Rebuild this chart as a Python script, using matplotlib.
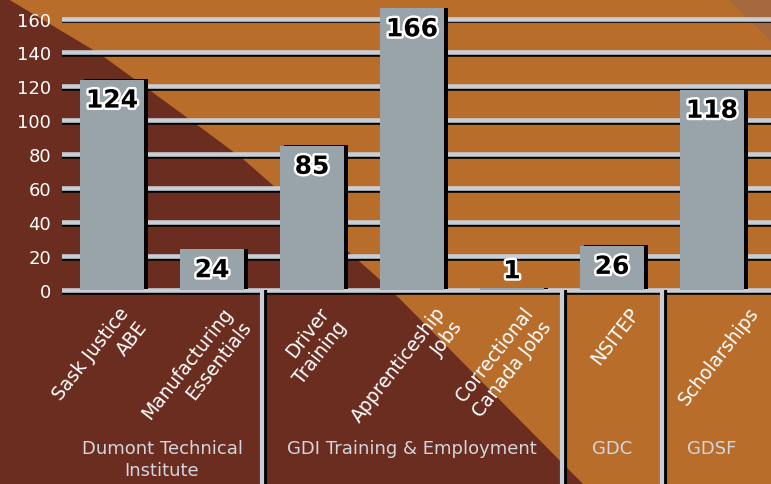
import matplotlib
matplotlib.use("Agg")
import matplotlib.pyplot as plt
import matplotlib.patheffects as pe
import matplotlib.transforms as mtransforms
import numpy as np

# data
programs = ["Sask Justice\nABE", "Manufacturing\nEssentials", "Driver\nTraining",
            "Apprenticeship\nJobs", "Correctional\nCanada Jobs", "NSITEP", "Scholarships"]
participants = [124, 24, 85, 166, 1, 26, 118]
groups = ["Dumont Technical\nInstitute", "GDI Training & Employment", "GDC", "GDSF"]
group_members = [[0, 1], [2, 3, 4], [5], [6]]
yticks = [0, 20, 40, 60, 80, 100, 120, 140, 160]

DARK = "#6b2d1f"
ORANGE = "#b86d2b"
BAR = "#99a3aa"
GRID = "#c8ced7"
W, H = 771, 485

plt.rcParams["font.family"] = ["DejaVu Sans"]
fig = plt.figure(figsize=(W / 100, H / 100), dpi=100)

# background: orange with a dark diagonal wedge (pixel coords)
bg = fig.add_axes([0, 0, 1, 1], zorder=-5)
bg.set_xlim(0, W)
bg.set_ylim(H, 0)
bg.axis("off")
bg.add_patch(plt.Rectangle((0, 0), W, H, color=ORANGE, lw=0))
wedge = [(0, 0), (8, 0), (100, 55), (200, 128), (243, 160), (300, 210), (377, 278),
         (400, 300), (583, 485), (0, 485)]
bg.add_patch(plt.Polygon(wedge, color=DARK, lw=0))
bg.add_patch(plt.Polygon([(728, 0), (W, 0), (W, 42)], color="#a5693d", lw=0))

ax = fig.add_axes([62 / W, 1 - 296 / H, 1 - 62 / W, 296 / H])
ax.set_facecolor("none")
for s in ax.spines.values():
    s.set_visible(False)

x = np.arange(len(programs))
ax.set_xlim(-0.5, 6.59)
ax.set_ylim(-2.95, 171.5)

# gridlines with a thin dark drop shadow
for t in yticks:
    ax.axhline(t, color=GRID, lw=3.3, zorder=1,
               path_effects=[pe.SimpleLineShadow(offset=(0.3, -1.4), shadow_color="black", alpha=1),
                             pe.Normal()])

bars = ax.bar(x, participants, width=0.64, color=BAR, zorder=3)
for b in bars:
    b.set_path_effects([pe.SimplePatchShadow(offset=(2.6, 0.5), shadow_rgbFace="black", alpha=1),
                        pe.Normal()])

outline = [pe.withStroke(linewidth=3.5, foreground="white")]
for xi, v in zip(x, participants):
    if v < 10:
        ax.annotate(str(v), (xi, v), xytext=(0, 5), textcoords="offset pixels",
                    ha="center", va="bottom", fontsize=18, fontweight="bold",
                    color="black", path_effects=outline, zorder=5)
    else:
        ax.annotate(str(v), (xi, v), xytext=(0, -9), textcoords="offset pixels",
                    ha="center", va="top", fontsize=18, fontweight="bold",
                    color="black", path_effects=outline, zorder=5)

ax.set_yticks(yticks)
ax.set_yticklabels([str(t) for t in yticks], color="white", fontsize=13)
ax.tick_params(axis="y", length=0, pad=8)
ax.set_xticks([])

# rotated program labels below the axis
label_dx = [6, 10, 6, 22, 10, 16, 36]
for xi, lab, dx in zip(x, programs, label_dx):
    ax.annotate(lab, (xi, 0), xycoords=("data", "axes fraction"),
                xytext=(dx, -8), textcoords="offset pixels",
                rotation=52, rotation_mode="anchor", ha="right", va="top",
                multialignment="right", linespacing=1.25,
                color="white", fontsize=13.5, zorder=5, annotation_clip=False)

# group separators and group names
blend = mtransforms.blended_transform_factory(ax.transData, fig.transFigure)
base = 1 - 291 / H
for members in group_members[:-1]:
    sx = members[-1] + 0.5
    ax.plot([sx, sx], [0, base], transform=blend, color=GRID, lw=3, clip_on=False,
            solid_capstyle="butt", zorder=2,
            path_effects=[pe.SimpleLineShadow(offset=(2, 0), shadow_color="black", alpha=1),
                          pe.Normal()])

for name, members in zip(groups, group_members):
    gx = np.mean(members)
    ax.text(gx, 1 - 440 / H, name, transform=blend, ha="center", va="top",
            color="#d3d6de", fontsize=13, linespacing=1.3)

fig.savefig("out.png", dpi=100)
